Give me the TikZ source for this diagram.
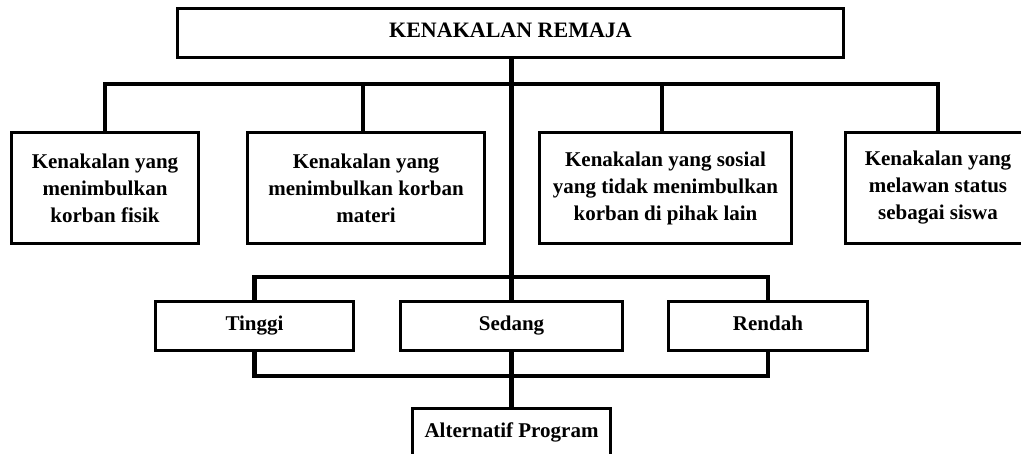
\documentclass[tikz,border=0pt]{standalone}
\usepackage{fontspec}
\setmainfont{Liberation Serif}
\begin{document}
\begin{tikzpicture}[x=1pt,y=1pt,
  box/.style={draw=black, line width=2pt, fill=white, align=center, inner sep=0pt,
    font=\fontsize{21}{27}\selectfont\bfseries},
  onebox/.style={box, minimum height=48pt, text height=15pt, text depth=5pt},
  bar/.style={draw=black, line width=4.5pt, line join=miter, line cap=rect}]
\path[use as bounding box] (0,0) rectangle (1021,-454);
\clip (0,0) rectangle (1021,-454);
\fill[white] (0,0) rectangle (1021,-454);
% nodes
\node[onebox, minimum width=665pt] (top) at (510.5,-33) {\fontsize{22}{27}\selectfont KENAKALAN REMAJA};
\node[box, minimum width=186pt, minimum height=110pt] (b1) at (105,-188) {Kenakalan yang\\menimbulkan\\korban fisik};
\node[box, minimum width=236pt, minimum height=110pt] (b2) at (366,-188) {Kenakalan yang\\menimbulkan korban\\materi};
\node[box, minimum width=251pt, minimum height=110pt] (b3) at (665.5,-188) {Kenakalan yang sosial\\yang tidak menimbulkan\\korban di pihak lain};
\node[box, minimum width=184pt, minimum height=110pt] (b4) at (938,-188) {Kenakalan yang\\melawan status\\sebagai siswa};
\node[onebox, minimum width=197pt] (tinggi) at (254.5,-326) {Tinggi};
\node[onebox, minimum width=221pt] (sedang) at (511.5,-326) {Sedang};
\node[onebox, minimum width=198pt] (rendah) at (768,-326) {Rendah};
\node[onebox, minimum width=197pt] (alt) at (511.5,-433) {Alternatif Program};
% bar levels
\coordinate (hb) at (0,-84);
\coordinate (ub) at (0,-277);
\coordinate (lb) at (0,-376);
% connectors
\draw[bar] (b1.north) |- (b4.north |- hb) -- (b4.north);
\draw[bar] (b2.north -| 363,0) -- (363,-84);
\draw[bar] (b3.north -| 662,0) -- (662,-84);
\draw[bar] (top.south -| sedang.north) -- (sedang.north);
\draw[bar] (tinggi.north) |- (rendah.north |- ub) -- (rendah.north);
\draw[bar] (tinggi.south) |- (rendah.south |- lb) -- (rendah.south);
\draw[bar] (sedang.south) -- (alt.north);
% redraw box outlines over bar ends
\foreach \n in {top,b1,b2,b3,b4,tinggi,sedang,rendah,alt}
  \draw[line width=2pt] (\n.north west) rectangle (\n.south east);
\end{tikzpicture}
\end{document}
